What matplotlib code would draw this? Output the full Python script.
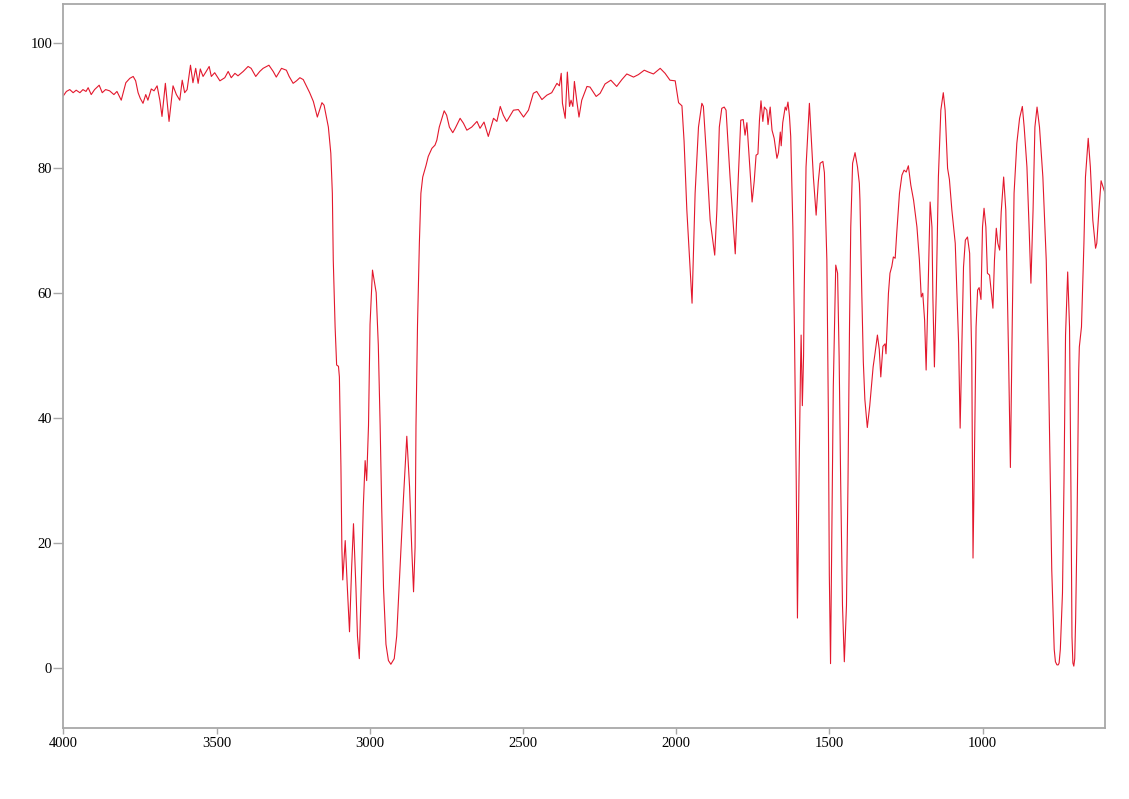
import matplotlib
matplotlib.use("Agg")
import matplotlib.pyplot as plt

# IR spectrum (wavenumber in cm-1, transmittance %)
wavenumber = [
    4000, 3990, 3979, 3968, 3958, 3946, 3936, 3926, 3919, 3909, 3898, 3883, 3873, 3862,
    3849, 3835, 3825, 3811, 3796, 3783, 3772, 3764, 3756, 3749, 3740, 3731, 3724, 3713,
    3704, 3694, 3685, 3678, 3667, 3655, 3642, 3631, 3620, 3612, 3604, 3596, 3585, 3577,
    3568, 3560, 3553, 3544, 3535, 3524, 3517, 3506, 3489, 3473, 3462, 3452, 3440, 3430,
    3413, 3397, 3387, 3372, 3359, 3348, 3329, 3315, 3305, 3288, 3272, 3263, 3250, 3239,
    3228, 3217, 3207, 3200, 3196, 3184, 3171, 3156, 3149, 3135, 3127, 3122, 3119, 3113,
    3108, 3102, 3099, 3094, 3091, 3088, 3080, 3073, 3066, 3059, 3053, 3045, 3040, 3034,
    3028, 3021, 3015, 3010, 3004, 2999, 2991, 2979, 2972, 2966, 2961, 2955, 2947, 2939,
    2931, 2920, 2912, 2901, 2890, 2879, 2870, 2863, 2857, 2852, 2849, 2844, 2838, 2833,
    2827, 2816, 2809, 2797, 2787, 2781, 2773, 2757, 2749, 2740, 2729, 2721, 2705, 2694,
    2683, 2667, 2650, 2640, 2627, 2613, 2596, 2585, 2574, 2564, 2553, 2531, 2515, 2498,
    2482, 2466, 2455, 2438, 2422, 2406, 2389, 2381, 2375, 2371, 2362, 2355, 2348, 2343,
    2337, 2332, 2324, 2317, 2308, 2291, 2281, 2261, 2248, 2232, 2213, 2194, 2177, 2161,
    2139, 2123, 2104, 2090, 2074, 2052, 2036, 2020, 2003, 1992, 1981, 1974, 1965, 1957,
    1948, 1938, 1927, 1916, 1911, 1900, 1889, 1874, 1867, 1859, 1851, 1843, 1837, 1824,
    1807, 1797, 1789, 1781, 1775, 1769, 1761, 1752, 1745, 1739, 1733, 1728, 1723, 1717,
    1712, 1704, 1700, 1693, 1687, 1680, 1671, 1666, 1660, 1657, 1652, 1644, 1640, 1635,
    1630, 1626, 1619, 1614, 1608, 1604, 1599, 1594, 1592, 1588, 1584, 1582, 1576, 1565,
    1559, 1552, 1543, 1536, 1530, 1521, 1516, 1508, 1503, 1500, 1496, 1493, 1487, 1479,
    1473, 1468, 1463, 1457, 1451, 1444, 1439, 1434, 1430, 1424, 1416, 1408, 1402, 1400,
    1394, 1389, 1384, 1376, 1368, 1357, 1351, 1343, 1337, 1332, 1325, 1318, 1315, 1307,
    1302, 1296, 1291, 1285, 1280, 1271, 1263, 1256, 1249, 1242, 1234, 1225, 1214, 1206,
    1200, 1195, 1189, 1184, 1178, 1171, 1165, 1162, 1157, 1151, 1144, 1136, 1128, 1122,
    1114, 1108, 1100, 1089, 1078, 1073, 1068, 1062, 1056, 1049, 1042, 1035, 1031, 1026,
    1021, 1016, 1011, 1005, 1000, 995, 989, 984, 977, 972, 966, 961, 955, 950,
    944, 939, 931, 924, 915, 909, 903, 897, 888, 879, 870, 864, 855, 848,
    842, 835, 829, 822, 814, 803, 792, 785, 774, 766, 762, 757, 753, 750,
    746, 742, 739, 734, 729, 722, 716, 711, 708, 705, 702, 699, 696, 692,
    686, 684, 677, 669, 664, 655, 648, 640, 631, 627, 620, 613, 600,
]
transmittance = [
    91.6, 92.3, 92.6, 92.1, 92.5, 92.1, 92.6, 92.3, 92.9, 91.8, 92.6, 93.3, 92.1, 92.6,
    92.4, 91.8, 92.3, 90.9, 93.7, 94.4, 94.7, 94.0, 92.1, 91.2, 90.4, 91.8, 90.9, 92.7,
    92.4, 93.2, 90.9, 88.3, 93.6, 87.5, 93.2, 91.8, 90.9, 94.1, 92.1, 92.6, 96.5, 93.7,
    96.0, 93.6, 95.9, 94.7, 95.4, 96.3, 94.7, 95.3, 94.0, 94.5, 95.5, 94.5, 95.2, 94.8,
    95.5, 96.3, 96.0, 94.7, 95.5, 96.0, 96.5, 95.5, 94.6, 96.0, 95.7, 94.7, 93.6, 94.0,
    94.5, 94.2, 93.2, 92.5, 92.1, 90.7, 88.2, 90.5, 90.1, 86.6, 82.4, 76.0, 65.3, 54.6,
    48.5, 48.3, 46.6, 32.3, 19.4, 14.1, 20.4, 12.8, 5.8, 16.1, 23.1, 12.8, 5.1, 1.5,
    12.8, 25.8, 33.2, 30.0, 38.8, 55.0, 63.7, 60.1, 51.7, 38.8, 25.8, 12.8, 3.8, 1.2,
    0.6, 1.5, 5.1, 16.1, 27.1, 37.1, 29.0, 19.3, 12.2, 19.3, 38.8, 55.0, 68.0, 76.0,
    78.6, 80.5, 81.9, 83.2, 83.7, 84.5, 86.6, 89.2, 88.5, 86.6, 85.7, 86.4, 88.0, 87.2,
    86.1, 86.6, 87.5, 86.4, 87.4, 85.1, 88.0, 87.5, 89.9, 88.5, 87.5, 89.3, 89.4, 88.2,
    89.3, 92.0, 92.3, 91.0, 91.7, 92.1, 93.6, 93.2, 95.2, 90.4, 88.0, 95.4, 89.9, 90.9,
    89.9, 93.9, 90.7, 88.2, 90.9, 93.1, 93.0, 91.5, 92.0, 93.5, 94.1, 93.1, 94.2, 95.1,
    94.6, 95.0, 95.7, 95.4, 95.1, 96.0, 95.2, 94.1, 94.0, 90.5, 90.0, 84.3, 73.3, 66.4,
    58.4, 76.0, 86.6, 90.4, 89.9, 81.3, 71.7, 66.1, 73.3, 86.6, 89.6, 89.8, 89.3, 78.6,
    66.3, 78.6, 87.7, 87.8, 85.3, 87.3, 81.3, 74.6, 78.0, 82.1, 82.3, 87.7, 90.8, 87.5,
    89.8, 89.3, 87.0, 89.8, 86.1, 84.8, 81.6, 82.5, 85.8, 83.6, 87.3, 89.8, 89.3, 90.6,
    88.3, 85.1, 70.6, 54.6, 30.0, 8.0, 30.0, 48.0, 53.3, 42.0, 50.0, 60.0, 80.2, 90.4,
    85.1, 78.6, 72.5, 77.8, 80.8, 81.1, 79.3, 65.3, 40.0, 15.0, 0.7, 15.0, 45.0, 64.5,
    63.2, 50.0, 30.0, 10.0, 1.0, 10.0, 30.0, 55.0, 70.6, 80.8, 82.5, 80.2, 77.6, 74.9,
    60.0, 49.0, 43.0, 38.5, 42.0, 48.2, 50.3, 53.3, 51.0, 46.6, 51.5, 51.9, 50.3, 60.0,
    63.2, 64.3, 65.8, 65.6, 69.6, 76.0, 78.9, 79.7, 79.4, 80.4, 77.3, 74.9, 70.6, 65.3,
    59.4, 60.0, 55.7, 47.7, 59.7, 74.6, 70.6, 59.4, 48.2, 60.0, 78.6, 89.3, 92.1, 89.3,
    80.0, 78.2, 73.3, 68.0, 52.0, 38.4, 50.0, 64.2, 68.5, 69.0, 66.4, 49.4, 17.6, 35.0,
    54.6, 60.5, 60.9, 59.0, 70.6, 73.6, 70.6, 63.2, 62.9, 60.5, 57.6, 65.3, 70.4, 68.0,
    66.9, 73.0, 78.6, 73.3, 50.0, 32.1, 55.0, 76.0, 84.0, 88.0, 89.9, 86.6, 80.2, 70.6,
    61.6, 73.3, 86.6, 89.8, 86.6, 78.6, 65.3, 49.0, 15.7, 3.0, 1.0, 0.5, 0.5, 0.8,
    3.0, 8.0, 12.0, 30.0, 53.3, 63.4, 54.6, 26.4, 5.0, 0.8, 0.3, 1.5, 8.0, 20.7,
    47.7, 51.4, 54.6, 68.0, 78.6, 84.8, 80.2, 71.7, 67.2, 68.0, 73.3, 78.0, 76.0,
]

xticks = [4000, 3500, 3000, 2500, 2000, 1500, 1000]
yticks = [0, 20, 40, 60, 80, 100]

plt.rcParams['font.family'] = ['Liberation Serif', 'DejaVu Serif']

fig = plt.figure(figsize=(11.29, 7.99), dpi=100)
ax = fig.add_axes([0.0561, 0.0885, 0.9227, 0.9065])
ax.plot(wavenumber, transmittance, '-', color='#e3182d', linewidth=0.8)

ax.set_xlim(4000, 600)
ax.set_ylim(-9.65, 106.3)
ax.set_xticks(xticks)
ax.set_yticks(yticks)
ax.set_xticklabels([str(t) for t in xticks])
ax.set_yticklabels([str(t) for t in yticks])

for s in ax.spines.values():
    s.set_color('#a8a8a8')
    s.set_linewidth(1.3)
ax.tick_params(axis='y', direction='out', length=7, width=1, color='#a8a8a8',
               labelsize=10.5, pad=1)
ax.tick_params(axis='x', direction='out', length=4, width=1, color='#a8a8a8',
               labelsize=10.5, pad=2)

plt.savefig('out.png', dpi=100)
